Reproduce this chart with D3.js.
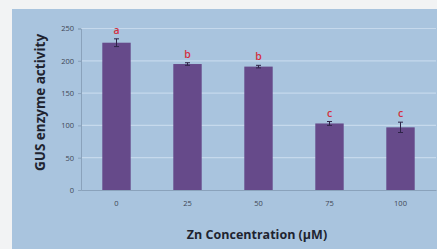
<!DOCTYPE html>
<html>
<head>
<meta charset="utf-8">
<script src="https://cdn.jsdelivr.net/npm/d3@7"></script>
<style>
  body { margin: 0; background: #f3f4f5; }
  svg { display: block; }
</style>
</head>
<body>
<svg id="chart" width="437" height="249"></svg>
<script>
const categories = ['0', '25', '50', '75', '100'];
const values = [228, 195, 191, 103, 97];
const errors = [6, 2, 2, 3, 8];
const letters = ['a', 'b', 'b', 'c', 'c'];
const yTicks = [0, 50, 100, 150, 200, 250];

const svg = d3.select('#chart');

// outer page + chart panel
svg.append('rect')
  .attr('width', 437).attr('height', 249)
  .attr('fill', '#f2f3f4');
svg.append('rect')
  .attr('x', 12).attr('y', 9)
  .attr('width', 425).attr('height', 240)
  .attr('fill', '#a9c4de');

const plot = { left: 81, right: 436, top: 28.5, bottom: 190 };

const x = d3.scaleBand()
  .domain(categories)
  .range([plot.left, plot.right])
  .paddingInner(0.6)
  .paddingOuter(0.3);

const y = d3.scaleLinear()
  .domain([0, 250])
  .range([plot.bottom, plot.top]);

// gridlines
svg.append('g')
  .selectAll('line')
  .data(yTicks.slice(1))
  .join('line')
  .attr('x1', plot.left).attr('x2', plot.right)
  .attr('y1', (d) => y(d)).attr('y2', (d) => y(d))
  .attr('stroke', '#c6d9ec')
  .attr('stroke-width', 1.2);

// y axis
const yAxis = svg.append('g')
  .attr('transform', `translate(${plot.left},0)`)
  .call(d3.axisLeft(y).tickValues(yTicks).tickSize(3).tickPadding(4));
yAxis.select('.domain').attr('stroke', '#8aa2bb');
yAxis.selectAll('.tick line').attr('stroke', '#8aa2bb');
yAxis.selectAll('text')
  .attr('fill', '#404654')
  .style('font', '7.5px "Open Sans", sans-serif');

// x axis
const xAxis = svg.append('g')
  .attr('transform', `translate(0,${plot.bottom})`)
  .call(d3.axisBottom(x).tickSize(0).tickPadding(11));
xAxis.select('.domain').attr('stroke', '#8aa2bb');
xAxis.selectAll('text')
  .attr('fill', '#404654')
  .style('font', '7.5px "Open Sans", sans-serif');

// bars
svg.append('g')
  .selectAll('rect')
  .data(values)
  .join('rect')
  .attr('x', (d, i) => x(categories[i]))
  .attr('y', (d) => y(d))
  .attr('width', x.bandwidth())
  .attr('height', (d) => y(0) - y(d))
  .attr('fill', '#664a8a');

// error bars
const err = svg.append('g').attr('stroke', '#2e2448').attr('stroke-width', 1);
values.forEach((v, i) => {
  const cx = x(categories[i]) + x.bandwidth() / 2;
  err.append('line')
    .attr('x1', cx).attr('x2', cx)
    .attr('y1', y(v + errors[i])).attr('y2', y(v - errors[i]));
  [v + errors[i], v - errors[i]].forEach((e) => {
    err.append('line')
      .attr('x1', cx - 2.5).attr('x2', cx + 2.5)
      .attr('y1', y(e)).attr('y2', y(e));
  });
});

// significance letters
svg.append('g')
  .selectAll('text')
  .data(values)
  .join('text')
  .attr('x', (d, i) => x(categories[i]) + x.bandwidth() / 2)
  .attr('y', (d, i) => y(d + errors[i]) - 5)
  .attr('text-anchor', 'middle')
  .attr('fill', '#d3303f')
  .style('font', '600 10.5px "Open Sans", sans-serif')
  .text((d, i) => letters[i]);

// axis titles
svg.append('text')
  .attr('x', 257).attr('y', 239)
  .attr('text-anchor', 'middle')
  .attr('fill', '#1f2430')
  .style('font', 'bold 12.5px "Open Sans", sans-serif')
  .text('Zn Concentration (µM)');

svg.append('text')
  .attr('transform', 'translate(45,102.5) rotate(-90)')
  .attr('text-anchor', 'middle')
  .attr('fill', '#1f2430')
  .style('font', 'bold 13.5px "Open Sans", sans-serif')
  .text('GUS enzyme activity');
</script>
</body>
</html>
